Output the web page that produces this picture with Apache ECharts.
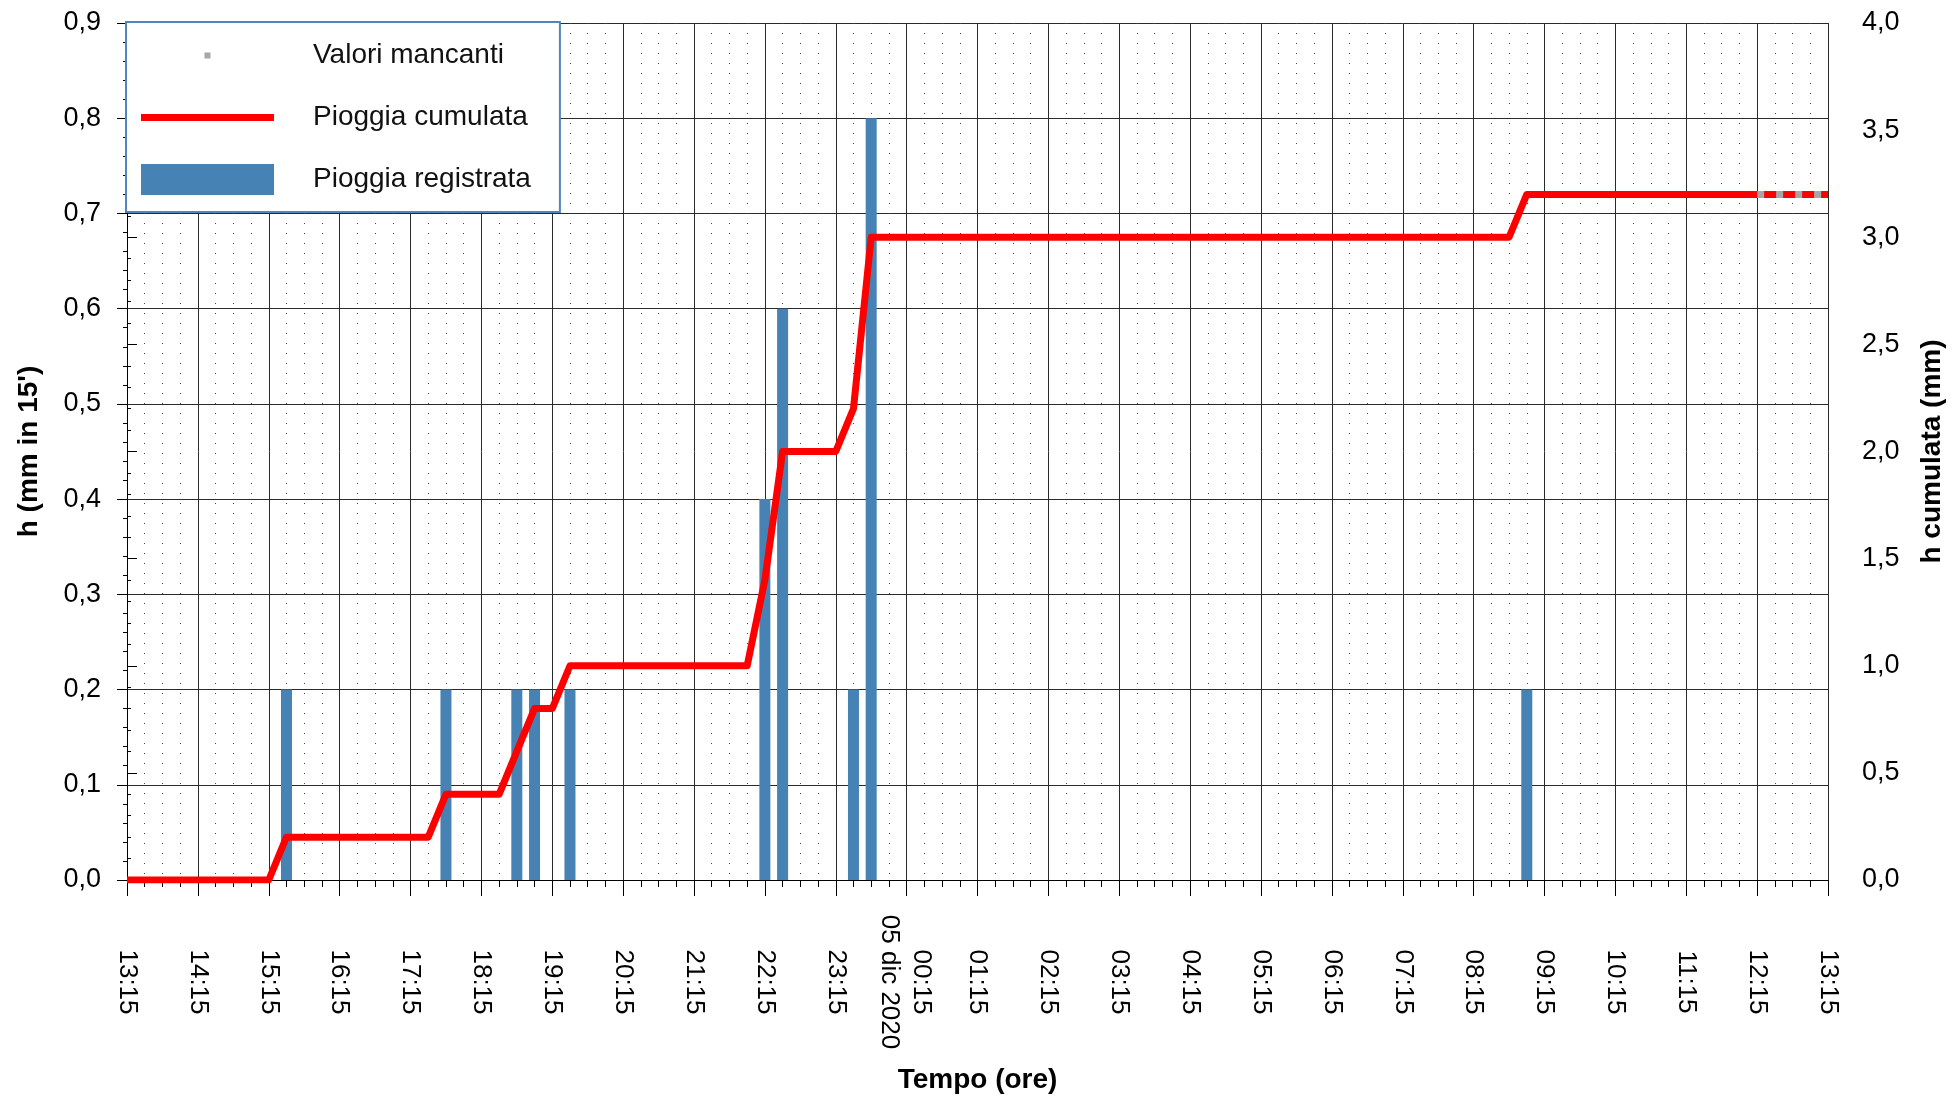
<!DOCTYPE html>
<html>
<head>
<meta charset="utf-8">
<title>Pioggia</title>
<script src="https://cdn.jsdelivr.net/npm/echarts@6/dist/echarts.min.js"></script>
<style>
  html, body { margin: 0; padding: 0; background: #fff; }
  #chart { width: 1954px; height: 1099px; }
</style>
</head>
<body>
<div id="chart"></div>
<script>
// asse x: quarti d'ora a partire dalle 13:15 del 4 dic
const hourLabels = ['13:15', '14:15', '15:15', '16:15', '17:15', '18:15', '19:15', '20:15', '21:15',
  '22:15', '23:15', '00:15', '01:15', '02:15', '03:15', '04:15', '05:15', '06:15', '07:15',
  '08:15', '09:15', '10:15', '11:15', '12:15', '13:15']
const dateLabel = '05 dic 2020'
const dateSlot = 43

// pioggia registrata (mm in 15')
const rainSlots = [9, 18, 22, 23, 25, 36, 37, 41, 42, 79]
const rainValues = [0.2, 0.2, 0.2, 0.2, 0.2, 0.4, 0.6, 0.2, 0.8, 0.2]

// pioggia cumulata (mm)
const cumSlots = [0, 8, 9, 17, 18, 21, 22, 23, 24, 25, 35, 36, 37, 40, 41, 42, 78, 79, 92]
const cumValues = [0, 0, 0.2, 0.2, 0.4, 0.4, 0.6, 0.8, 0.8, 1.0, 1.0, 1.4, 2.0, 2.0, 2.2, 3.0, 3.0, 3.2, 3.2]

// tratto con valori mancanti
const missingSlots = [92, 96]
const missingValues = [3.2, 3.2]

const FONT = 'Liberation Sans, Arial, sans-serif'
const comma = v => v.toFixed(1).replace('.', ',')

const chart = echarts.init(document.getElementById('chart'))

const xLabel = {
  rotate: -90,
  align: 'center',
  verticalAlign: 'middle',
  margin: 102,
  color: '#000',
  fontFamily: FONT,
  fontSize: 26
}

chart.setOption({
  animation: false,
  backgroundColor: '#fff',
  grid: { left: 127, right: 124, top: 23, bottom: 216 },
  legend: {
    orient: 'vertical',
    left: 126,
    top: 22,
    padding: [18, 29, 17, 15],
    itemGap: 31,
    itemWidth: 133,
    itemHeight: 31,
    backgroundColor: '#fff',
    borderColor: '#4f86c0',
    borderWidth: 2,
    borderRadius: 0,
    selectedMode: false,
    itemStyle: { borderWidth: 0 },
    textStyle: { color: '#111', fontFamily: FONT, fontSize: 28, padding: [0, 0, 0, 34] },
    data: [
      { name: 'Valori mancanti', icon: 'path://M0,0M133,31M63.5,12.5h6v6h-6z' },
      { name: 'Pioggia cumulata', icon: 'path://M0,0M133,31M0,12h133v7h-133z' },
      { name: 'Pioggia registrata', icon: 'rect' }
    ]
  },
  xAxis: [
    {
      type: 'value',
      min: 0,
      max: 96,
      interval: 4,
      name: 'Tempo (ore)',
      nameLocation: 'middle',
      nameGap: 186,
      nameTextStyle: { color: '#000', fontFamily: FONT, fontSize: 28, fontWeight: 'bold' },
      axisLine: { show: true, lineStyle: { color: '#000', width: 1 } },
      axisTick: { show: true, length: 16, lineStyle: { color: '#000' } },
      minorTick: { show: true, splitNumber: 4, length: 7, lineStyle: { color: '#000' } },
      splitLine: { show: true, lineStyle: { color: '#2a2a2a', width: 1 } },
      minorSplitLine: { show: true, lineStyle: { color: '#444', width: 1, type: [1, 9] } },
      axisLabel: Object.assign({}, xLabel, {
        // l'etichetta 00:15 è spostata a destra per far posto alla data
        formatter: v => {
          const t = hourLabels[Math.round(v / 4)] || ''
          return v === (Math.floor(dateSlot / 4) + 1) * 4 ? '{shift|' + t + '}' : t
        },
        rich: { shift: { fontFamily: FONT, fontSize: 26, color: '#000', padding: [0, 0, 30, 0] } }
      })
    },
    {
      type: 'value',
      position: 'bottom',
      min: 0,
      max: 96,
      interval: dateSlot,
      axisLine: { show: false },
      axisTick: { show: false },
      splitLine: { show: false },
      axisLabel: Object.assign({}, xLabel, {
        showMaxLabel: false,
        formatter: v => (v === dateSlot ? dateLabel : '')
      })
    }
  ],
  yAxis: [
    {
      type: 'value',
      min: 0,
      max: 0.9,
      interval: 0.1,
      name: "h (mm in 15')",
      nameLocation: 'middle',
      nameRotate: 90,
      nameGap: 84,
      nameTextStyle: { color: '#000', fontFamily: FONT, fontSize: 28, fontWeight: 'bold' },
      axisLine: { show: true, lineStyle: { color: '#000', width: 1 } },
      axisTick: { show: true, length: 10, lineStyle: { color: '#000' } },
      minorTick: { show: true, splitNumber: 5, length: 4, lineStyle: { color: '#000' } },
      splitLine: { show: true, lineStyle: { color: '#2a2a2a', width: 1 } },
      axisLabel: { color: '#000', fontFamily: FONT, fontSize: 27, margin: 26, formatter: comma }
    },
    {
      type: 'value',
      position: 'right',
      offset: 8,
      min: 0,
      max: 4,
      interval: 0.5,
      name: 'h cumulata (mm)',
      nameLocation: 'middle',
      nameRotate: 90,
      nameGap: 82,
      nameTextStyle: { color: '#000', fontFamily: FONT, fontSize: 28, fontWeight: 'bold' },
      axisLine: { show: true, lineStyle: { color: '#000', width: 1 } },
      axisTick: { show: true, length: 10, lineStyle: { color: '#000' } },
      minorTick: { show: true, splitNumber: 5, length: 4, lineStyle: { color: '#000' } },
      splitLine: { show: false },
      axisLabel: { color: '#000', fontFamily: FONT, fontSize: 27, margin: 26, formatter: comma }
    }
  ],
  series: [
    {
      name: 'Pioggia registrata',
      type: 'bar',
      xAxisIndex: 0,
      yAxisIndex: 0,
      barWidth: 11,
      itemStyle: { color: '#4682b4' },
      z: 2,
      data: rainSlots.map((s, i) => [s, rainValues[i]])
    },
    {
      name: 'Valori mancanti',
      type: 'line',
      xAxisIndex: 0,
      yAxisIndex: 1,
      symbol: 'none',
      itemStyle: { color: '#a6a6a6' },
      lineStyle: { color: '#a6a6a6', width: 7 },
      z: 3,
      data: missingSlots.map((s, i) => [s, missingValues[i]])
    },
    {
      name: 'Pioggia cumulata',
      type: 'line',
      xAxisIndex: 0,
      yAxisIndex: 1,
      symbol: 'none',
      itemStyle: { color: '#ff0000' },
      lineStyle: { color: '#ff0000', width: 7, join: 'round' },
      z: 4,
      data: cumSlots.map((s, i) => [s, cumValues[i]])
    },
    {
      name: 'Pioggia cumulata (mancante)',
      type: 'line',
      xAxisIndex: 0,
      yAxisIndex: 1,
      symbol: 'none',
      lineStyle: { color: '#ff0000', width: 7, type: [12, 7], dashOffset: 12 },
      z: 4,
      data: missingSlots.map((s, i) => [s, missingValues[i]])
    }
  ]
})
</script>
</body>
</html>
